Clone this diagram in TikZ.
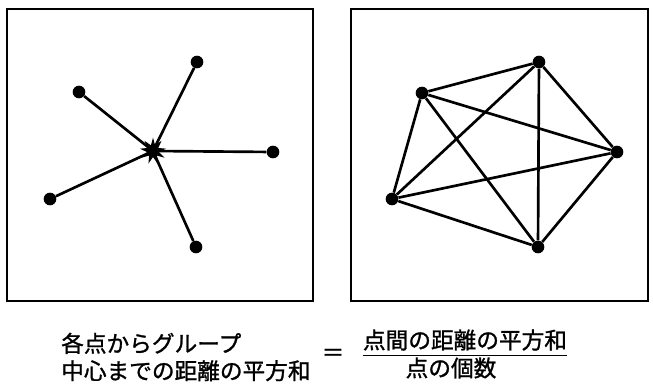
\documentclass[tikz,border=0pt]{standalone}
\usepackage{fontspec}
\newfontfamily\jpfont[FakeBold=1.2]{Noto Sans CJK JP}
\usepackage{tikz}
\usetikzlibrary{shapes.geometric, positioning, calc}

\begin{document}
\begin{tikzpicture}[
  x=0.75pt, y=-0.75pt,
  every node/.style={font=\jpfont\fontsize{17pt}{20.5pt}\selectfont},
  frame/.style={draw, line width=1.5pt},
  pt/.style={circle, fill=black, inner sep=0pt, minimum size=9.5pt},
  ctr/.style={star, star points=9, star point ratio=2.2, fill=black,
              inner sep=0pt, minimum size=20pt},
  edge/.style={line width=2pt},
  txt/.style={inner sep=0pt},
]
\useasboundingbox (0,0) rectangle (653,384);

%% frames
\draw[frame] (7,9)   rectangle (313,301);
\draw[frame] (351,9) rectangle (648,301);

%% left: distances to the centre
\node[ctr] (c)  at (153,151) {};
\node[pt]  (a1) at (79,92)   {};
\node[pt]  (a2) at (197,62)  {};
\node[pt]  (a3) at (273,152) {};
\node[pt]  (a4) at (50,199)  {};
\node[pt]  (a5) at (196,247) {};
\foreach \i in {1,...,5}
  \draw[edge] (c.center) -- (a\i);

%% right: all pairs
\node[pt] (b1) at (422,93)  {};
\node[pt] (b2) at (539,62)  {};
\node[pt] (b3) at (617,152) {};
\node[pt] (b4) at (392,199) {};
\node[pt] (b5) at (538,247) {};
\foreach \i/\j in {1/2,1/3,1/4,1/5,2/3,2/4,2/5,3/4,3/5,4/5}
  \draw[edge] (b\i) -- (b\j);

%% formula
\node[txt, align=left, anchor=west] (lhs) at (61,357) {各点からグループ\\中心までの距離の平方和};
\node[txt] (eq) at (333,355) {＝};
\node[txt] (num) at (465,340) {点間の距離の平方和};
\node[txt] (den) at (451,368) {点の個数};
\draw[line width=1.1pt] ([yshift=-5pt]num.base west) -- ([yshift=-5pt]num.base east);

\end{tikzpicture}
\end{document}
